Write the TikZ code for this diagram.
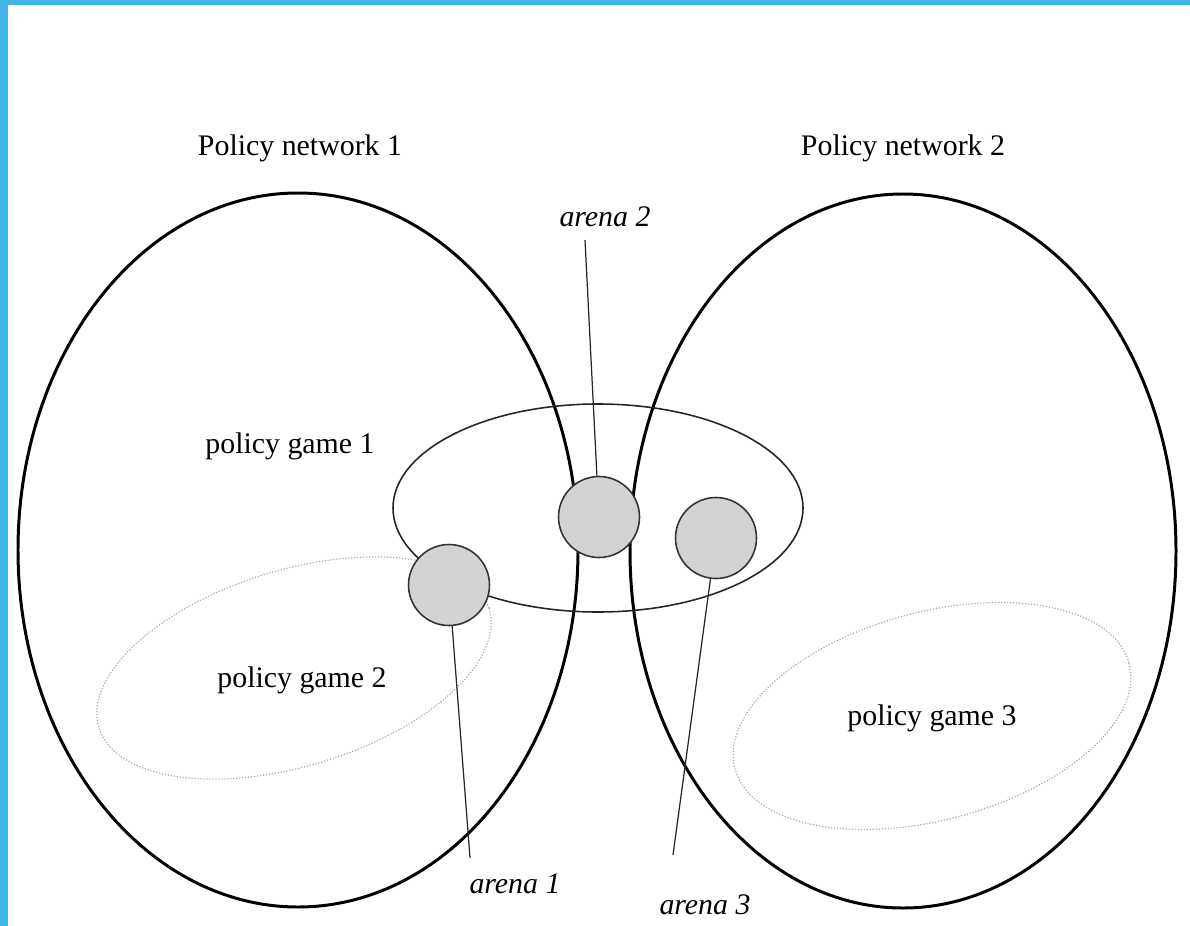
\documentclass[tikz,border=0pt]{standalone}
\usepackage{fontspec}
\setmainfont{Liberation Serif}
\usepackage{xcolor}
\usepackage{tikz}

\definecolor{frameblue}{RGB}{65,182,230}
\definecolor{arenagray}{RGB}{208,210,212}

\begin{document}
\begin{tikzpicture}[
  x=0.02cm,
  y=-0.02cm,
  network/.style={draw=black, line width=1.7pt},
  game/.style={draw=black!85, line width=0.9pt},
  sidegame/.style={draw=gray!65, line width=0.7pt, densely dotted},
  arena/.style={
    circle,
    draw=black!80,
    line width=0.9pt,
    fill=arenagray,
    inner sep=0pt,
    minimum size=1.62cm
  },
  leader/.style={draw=black!85, line width=0.7pt},
  label/.style={font=\fontsize{17}{20}\selectfont, inner sep=1pt},
  tag/.style={font=\fontsize{17}{20}\selectfont\itshape, inner sep=1pt}
]
  \useasboundingbox (0,0) rectangle (1190,926);
  \fill[frameblue] (0,0) rectangle (1190,5);
  \fill[frameblue] (0,0) rectangle (8,926);

  % the two networks
  \draw[network] (298,550) ellipse [x radius=280, y radius=357];
  \draw[network] (903,551) ellipse [x radius=273, y radius=357];

  % games
  \draw[game] (598,508) ellipse [x radius=205, y radius=104];
  \draw[sidegame, rotate around={17:(294,668)}] (294,668) ellipse [x radius=204, y radius=98];
  \draw[sidegame, rotate around={15:(932,716)}] (932,716) ellipse [x radius=204, y radius=104];

  \node[label] (pn1) at (300,148) {Policy network 1};
  \node[label] (pn2) at (903,148) {Policy network 2};
  \node[label] (pg1) at (290,446) {policy game 1};
  \node[label] (pg2) at (302,680) {policy game 2};
  \node[label] (pg3) at (932,718) {policy game 3};

  % arenas
  \node[arena] (a1) at (449,585) {};
  \node[arena] (a2) at (599,517) {};
  \node[arena] (a3) at (716,538) {};

  \node[tag] (a1lbl) at (515,884) {arena 1};
  \node[tag] (a2lbl) at (605,217) {arena 2};
  \node[tag] (a3lbl) at (705,905) {arena 3};

  \coordinate (a1end) at (470,858);
  \coordinate (a2end) at (585,240);
  \coordinate (a3end) at (673,855);

  \draw[leader] (a1) -- (a1end);
  \draw[leader] (a2) -- (a2end);
  \draw[leader] (a3) -- (a3end);
\end{tikzpicture}
\end{document}
